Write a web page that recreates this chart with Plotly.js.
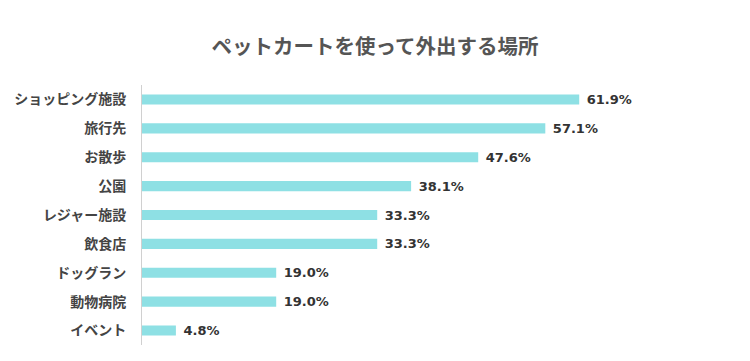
<!DOCTYPE html>
<html><head><meta charset="utf-8">
<script src="https://cdn.plot.ly/plotly-3.0.1.min.js"></script>
<style>body{margin:0;background:#fff}#c{width:750px;height:361px}</style>
</head><body><div id="c"></div>
<script>
const categories = ["ショッピング施設","旅行先","お散歩","公園","レジャー施設","飲食店","ドッグラン","動物病院","イベント"];
const values = [61.9, 57.1, 47.6, 38.1, 33.3, 33.3, 19.0, 19.0, 4.8];
const labels = values.map(v => "\u00a0" + v.toFixed(1) + "%");
const font = "Noto Sans CJK JP, sans-serif";
Plotly.newPlot("c", [{
  type: "bar", orientation: "h",
  y: categories, x: values,
  text: labels, textposition: "outside", cliponaxis: false, constraintext: "none",
  textfont: {family: "DejaVu Sans, sans-serif", size: 13, color: "#333", weight: "bold"},
  marker: {color: "#8ee0e4"},
  hoverinfo: "none"
}], {
  width: 750, height: 361,
  margin: {l: 142, r: 50, t: 85, b: 16},
  paper_bgcolor: "#fff", plot_bgcolor: "#fff",
  bargap: 0.65,
  title: {text: "ペットカートを使って外出する場所", x: 0.5, xanchor: "center", y: 0.87, yanchor: "middle",
    font: {family: font, size: 20.5, color: "#555", weight: "bold"}},
  xaxis: {range: [0, 79], showgrid: false, zeroline: false, showticklabels: false, showline: false, fixedrange: true},
  yaxis: {autorange: "reversed", showgrid: false, zeroline: false, showline: true, linecolor: "#d0d0d0", linewidth: 1,
    ticks: "", ticklabelstandoff: 12,
    tickfont: {family: font, size: 14, color: "#444", weight: "bold"}},
  showlegend: false
}, {staticPlot: true});
</script></body></html>
